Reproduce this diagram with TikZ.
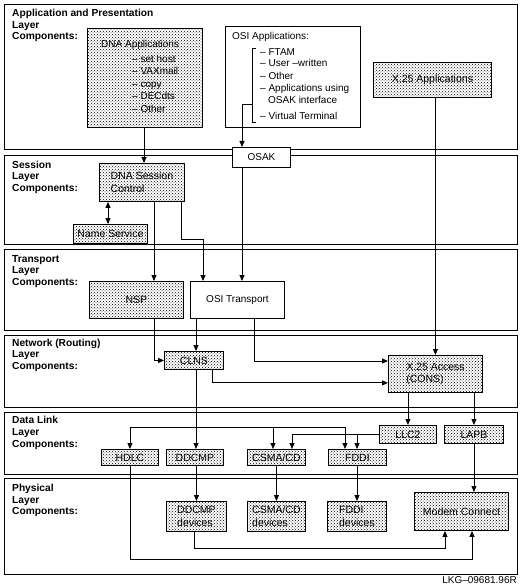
\documentclass[tikz,border=0pt]{standalone}
\usepackage{fontspec}
\setmainfont{Liberation Sans}
\usetikzlibrary{arrows.meta,patterns}
\begin{document}
\begin{tikzpicture}[x=1pt,y=-1pt,
  every node/.style={font=\fontsize{10}{12}\selectfont},
  layer/.style={draw, line width=0.9pt, anchor=north west, inner sep=0pt, minimum width=513pt},
  sbox/.style={draw, line width=0.9pt, anchor=north west, inner sep=0pt, pattern=crosshatch dots, pattern color=black, align=left, font=\fontsize{10.5}{12.5}\selectfont},
  wbox/.style={draw, line width=0.9pt, anchor=north west, inner sep=0pt, fill=white, align=left},
  lbl/.style={anchor=base west, inner sep=0pt, font=\bfseries\fontsize{10.2}{12}\selectfont},
  txt/.style={anchor=base west, inner sep=0pt},
  conn/.style={line width=0.9pt},
  arr/.style={conn, -{Triangle[length=6pt,width=5pt]}},
  arrb/.style={conn, {Triangle[length=6pt,width=5pt]}-{Triangle[length=6pt,width=5pt]}}]
\useasboundingbox (0,0) rectangle (520,588);
% layers
\node[layer, minimum height=145pt] (L1) at (4,4) {};
\node[layer, minimum height=89pt] (L2) at (4,155) {};
\node[layer, minimum height=81pt] (L3) at (4,249) {};
\node[layer, minimum height=72pt] (L4) at (4,335) {};
\node[layer, minimum height=62pt] (L5) at (4,412) {};
\node[layer, minimum height=96pt] (L6) at (4,478) {};
% layer labels
\node[lbl] (l1a) at (12,17) {Application and Presentation};
\node[lbl] (l1b) at (12,28.5) {Layer};
\node[lbl] (l1c) at (12,40) {Components:};
\node[lbl] (l2a) at (12,168) {Session};
\node[lbl] (l2b) at (12,179.5) {Layer};
\node[lbl] (l2c) at (12,191) {Components:};
\node[lbl] (l3a) at (12,262) {Transport};
\node[lbl] (l3b) at (12,273.5) {Layer};
\node[lbl] (l3c) at (12,285) {Components:};
\node[lbl] (l4a) at (12,346) {Network (Routing)};
\node[lbl] (l4b) at (12,357.5) {Layer};
\node[lbl] (l4c) at (12,369) {Components:};
\node[lbl] (l5a) at (12,423) {Data Link};
\node[lbl] (l5b) at (12,435) {Layer};
\node[lbl] (l5c) at (12,447) {Components:};
\node[lbl] (l6a) at (12,491) {Physical};
\node[lbl] (l6b) at (12,503) {Layer};
\node[lbl] (l6c) at (12,514.5) {Components:};
% application layer
\node[sbox, minimum width=115pt, minimum height=99pt] (dnaapp) at (87,28) {};
\node[txt] (dnat) at (101,47.5) {DNA Applications};
\node[txt] (dna1) at (132,62.5) {– set host};
\node[txt] (dna2) at (132,75) {– VAXmail};
\node[txt] (dna3) at (132,87.5) {– copy};
\node[txt] (dna4) at (132,100) {– DECdts};
\node[txt] (dna5) at (132,112.5) {– Other};
\node[wbox, minimum width=135pt, minimum height=101pt] (osiapp) at (225,26) {};
\node[txt] (osit0) at (232,39.5) {OSI Applications:};
\node[txt] (osi1) at (260,56) {– FTAM};
\node[txt] (osi2) at (260,67) {– User –written};
\node[txt] (osi3) at (260,80) {– Other};
\node[txt] (osi4) at (260,92) {– Applications using};
\node[txt] (osi5) at (268,103.5) {OSAK interface};
\node[txt] (osi6) at (260,120) {– Virtual Terminal};
\draw[conn] (256,48) -| (252,122) -- (256,122);
\coordinate (brk) at (252,104);
\node[sbox, minimum width=118pt, minimum height=35pt] (x25app) at (373,62) {X.25 Applications};
\node[wbox, minimum width=58pt, minimum height=20pt] (osak) at (232,147) {OSAK};
% session layer
\node[sbox, minimum width=85pt, minimum height=38pt] (dnasc) at (99,163) {DNA Session\\Control};
\node[sbox, minimum width=74pt, minimum height=19pt] (namesvc) at (73,224) {Name Service};
% transport layer
\node[sbox, minimum width=94pt, minimum height=37pt] (nsp) at (89,281) {NSP};
\node[wbox, minimum width=94pt, minimum height=37pt] (osit) at (190,281) {OSI Transport};
% network layer
\node[sbox, minimum width=59pt, minimum height=18pt] (clns) at (164,351) {CLNS};
\node[sbox, minimum width=94pt, minimum height=37pt] (x25acc) at (388,355) {X.25 Access\\(CONS)};
% data link layer
\node[sbox, minimum width=57pt, minimum height=16pt] (hdlc) at (101,449) {HDLC};
\node[sbox, minimum width=57pt, minimum height=16pt] (ddcmp) at (166,449) {DDCMP};
\node[sbox, minimum width=58pt, minimum height=16pt] (csma) at (247,449) {CSMA/CD};
\node[sbox, minimum width=58pt, minimum height=16pt] (fddi) at (328,449) {FDDI};
\node[sbox, minimum width=57pt, minimum height=18pt] (llc2) at (379,425) {LLC2};
\node[sbox, minimum width=59pt, minimum height=18pt] (lapb) at (444,425) {LAPB};
% physical layer
\node[sbox, minimum width=60pt, minimum height=30pt] (ddcmpdev) at (166,501) {DDCMP\\devices};
\node[sbox, minimum width=58pt, minimum height=30pt] (csmadev) at (247,501) {CSMA/CD\\devices};
\node[sbox, minimum width=59pt, minimum height=30pt] (fddidev) at (327,501) {FDDI\\devices};
\node[sbox, minimum width=94pt, minimum height=38pt] (modem) at (414,492) {Modem Connect};
\node[anchor=base east, inner sep=0pt] (lkg) at (517,583) {LKG–09681.96R};
% connectors
\coordinate (c1) at ([xshift=57pt]dnaapp.south west);
\draw[arr] (c1) -- (c1 |- dnasc.north);
\coordinate (c3) at ([xshift=10pt]osak.north west);
\draw[arr] (brk) -| (c3);
\draw[arr] (x25app.south -| x25acc.north) -- (x25acc.north);
\coordinate (c5) at ([xshift=35pt]namesvc.north west);
\draw[arrb] (c5 |- dnasc.south) -- (c5);
\coordinate (c6) at ([xshift=55pt]dnasc.south west);
\draw[arr] (c6) -- (c6 |- nsp.north);
\coordinate (c7) at ([xshift=82pt]dnasc.south west);
\coordinate (c7t) at ([xshift=13pt]osit.north west);
\draw[arr] (c7) -- ++(0,38) -| (c7t);
\coordinate (c8) at ([xshift=10pt]osak.south west);
\draw[arr] (c8) -- (c8 |- osit.north);
\draw[arr] (c6 |- nsp.south) |- (clns.west);
\coordinate (c10) at ([xshift=6pt]osit.south west);
\draw[arr] (c10) -- (c10 |- clns.north);
\coordinate (c11) at ([xshift=64pt]osit.south west);
\coordinate (c11t) at ([yshift=-6pt]x25acc.north west);
\draw[arr] (c11) |- (c11t);
\coordinate (c12) at ([xshift=48pt]clns.south west);
\coordinate (c12t) at ([yshift=10pt]x25acc.south west);
\draw[arr] (c12) |- (c12t);
\coordinate (c13) at ([xshift=32pt]clns.south west);
\draw[arr] (c13) -- (c13 |- ddcmp.north);
\coordinate (bus) at (196,427);
\coordinate (c14) at ([xshift=26pt]csma.north west);
\coordinate (c15) at ([xshift=17pt]fddi.north west);
\draw[arr] (bus) -| (hdlc.north);
\draw[arr] (bus) -| (c14);
\draw[arr] (bus) -| (c15);
\coordinate (c16) at ([xshift=45pt]csma.north west);
\coordinate (c17) at ([xshift=29pt]fddi.north west);
\draw[arr] (llc2.west) -| (c16);
\draw[arr] (llc2.west -| c17) -- (c17);
\draw[arr] (x25acc.south -| llc2.north) -- (llc2.north);
\draw[arr] (x25acc.south -| lapb.north) -- (lapb.north);
\coordinate (c18) at ([xshift=58pt]modem.south west);
\draw[arr] (hdlc.south) -- ++(0,94) -| (c18);
\draw[arr] (ddcmpdev.north |- ddcmp.south) -- (ddcmpdev.north);
\draw[arr] (csma.south) -- (csmadev.north);
\draw[arr] (c17 |- fddi.south) -- (c17 |- fddidev.north);
\draw[arr] (lapb.south) -- (lapb.south |- modem.north);
\coordinate (c19) at ([xshift=31pt]modem.south west);
\coordinate (c20) at ([xshift=-2pt]ddcmpdev.south);
\draw[arr] (c20) -- ++(0,17) -| (c19);
\end{tikzpicture}
\end{document}
